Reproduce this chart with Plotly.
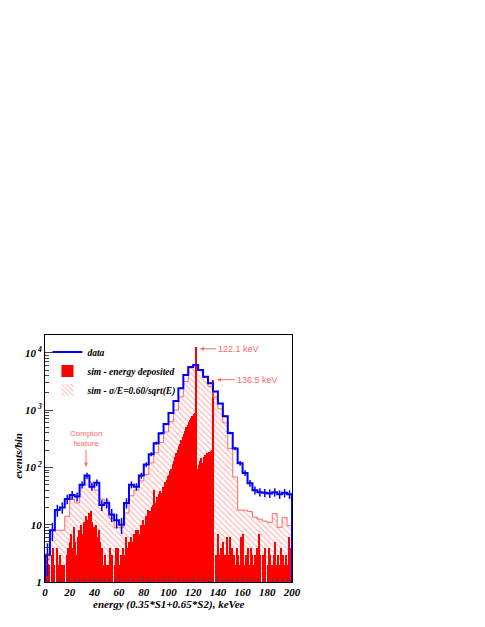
import plotly.graph_objects as go

# bin edges, 4 keV for data and smeared sim, 1 keV for deposited energy
edges_4kev = list(range(0, 201, 4))
edges_1kev = list(range(0, 201, 1))

# measured spectrum (events per 4 keV bin)
data_counts = [3, 8, 18, 20, 28, 33, 31, 50, 72, 46,
               54, 22, 24, 15, 12, 10, 24, 50, 46, 72,
               112, 170, 265, 395, 570, 890, 1440, 2400, 4100, 5650,
               6100, 5000, 3800, 2950, 2100, 1300, 780, 400, 213, 118,
               80, 53, 40, 37, 36, 35, 37, 34, 36, 34]

# simulation smeared with sigma/E = 0.60/sqrt(E) (per 4 keV bin)
sim_smeared = [2.5, 8, 8, 8, 14, 28, 24, 48, 68, 55,
               40, 28, 26, 13, 9, 9, 16, 32, 40, 58,
               75, 120, 180, 270, 415, 625, 1000, 1700, 3150, 5450,
               6100, 5000, 3800, 2600, 1700, 1050, 600, 215, 68, 18,
               18, 17, 13.5, 12.5, 11.5, 11, 15.6, 9, 13.5, 9.6]

# simulation, deposited energy (per 1 keV bin)
sim_deposited = [
    3, 2, 0, 2, 0, 3, 4, 2, 0, 4,
    2, 0, 3, 2, 0, 2, 0, 3, 4, 2,
    5, 7, 4, 9, 5, 3, 6, 8, 5, 10,
    7, 11, 9, 14, 12, 16, 15, 17, 11, 9,
    7, 10, 6, 8, 5, 3, 4, 2, 3, 2,
    0, 2, 4, 2, 3, 0, 2, 4, 3, 4,
    2, 3, 2, 4, 3, 6, 3, 4, 5, 6,
    4, 5, 7, 8, 6, 8, 7, 10, 9, 12,
    10, 14, 12, 18, 14, 17, 20, 22, 40, 24,
    30, 26, 34, 38, 36, 45, 42, 55, 60, 70,
    75, 85, 95, 115, 130, 150, 175, 200, 235, 260,
    300, 340, 390, 440, 500, 560, 620, 680, 740, 800,
    860, 900, 12500, 95, 110, 130, 145, 120, 150, 165,
    155, 175, 185, 170, 190, 200, 3300, 0, 3, 2,
    7, 3, 4, 2, 5, 3, 0, 6, 3, 6,
    2, 4, 0, 3, 2, 4, 3, 2, 6, 3,
    7, 2, 3, 0, 4, 2, 4, 3, 0, 2,
    3, 4, 2, 7, 3, 0, 3, 2, 4, 0,
    2, 4, 3, 2, 0, 3, 5, 2, 3, 0,
    2, 4, 3, 2, 0, 3, 2, 6, 3, 4,
]

centers_4kev = [(a + b) / 2 for a, b in zip(edges_4kev[:-1], edges_4kev[1:])]
centers_1kev = [(a + b) / 2 for a, b in zip(edges_1kev[:-1], edges_1kev[1:])]


def step_path(edges, counts, floor=1):
    """x/y for a histogram outline drawn with line_shape='hv'"""
    x = [edges[0]] + list(edges[:-1]) + [edges[-1], edges[-1]]
    y = [floor] + list(counts) + [counts[-1], floor]
    return x, y


serif = "Liberation Serif"
sans = "Liberation Sans"
label_red = "#ff6b6b"

fig = go.Figure()

# smeared sim, hatched
fig.add_trace(go.Bar(
    x=centers_4kev, y=sim_smeared, width=4,
    name="sim - \u03c3/E=0.60/sqrt(E)",
    marker=dict(color="white", line=dict(width=0),
                pattern=dict(shape="\\", fillmode="overlay", fgcolor="#ff7070",
                             size=4, solidity=0.3)),
    legendrank=3,
))
sx, sy = step_path(edges_4kev, sim_smeared)
fig.add_trace(go.Scatter(x=sx, y=sy, mode="lines", line_shape="hv",
                         line=dict(color="#ff6a6a", width=1),
                         showlegend=False, hoverinfo="skip"))

# deposited energy, solid red
fig.add_trace(go.Bar(
    x=centers_1kev, y=sim_deposited, width=1,
    name="sim - energy deposited",
    marker=dict(color="#ff0000", line=dict(width=0)),
    legendrank=2,
))

# data: step outline + error bars
dx, dy = step_path(edges_4kev, data_counts)
fig.add_trace(go.Scatter(x=dx, y=dy, mode="lines", line_shape="hv",
                         line=dict(color="#0000ff", width=2),
                         name="data", legendrank=1))
fig.add_trace(go.Scatter(
    x=centers_4kev, y=data_counts, mode="markers",
    marker=dict(size=1, color="#0000ff"),
    error_y=dict(type="data", array=[c ** 0.5 for c in data_counts],
                 color="#0000ff", thickness=1.5, width=0),
    showlegend=False, hoverinfo="skip"))

# line labels
fig.add_annotation(x=125.5, y=4.07, ax=16, ay=0, text="122.1 keV",
                   xanchor="left", showarrow=True, arrowhead=2, arrowsize=0.8,
                   arrowwidth=1, arrowcolor=label_red,
                   font=dict(family=sans, size=9, color=label_red))
fig.add_annotation(x=139.3, y=3.53, ax=18, ay=0, text="136.5 keV",
                   xanchor="left", showarrow=True, arrowhead=2, arrowsize=0.8,
                   arrowwidth=1, arrowcolor=label_red,
                   font=dict(family=sans, size=9, color=label_red))
fig.add_annotation(x=33.2, y=2.01, ax=0, ay=-17, text="Compton<br>feature",
                   yanchor="bottom", showarrow=True, arrowhead=2, arrowsize=0.8,
                   arrowwidth=1, arrowcolor=label_red,
                   font=dict(family=sans, size=8, color=label_red))

# axis titles
fig.add_annotation(xref="paper", yref="paper", x=0.5, y=-0.09,
                   xanchor="center", yanchor="middle",
                   text="energy (0.35*S1+0.65*S2), keVee", showarrow=False,
                   font=dict(family=serif, size=11, weight="bold", style="italic"))
fig.add_annotation(xref="paper", yref="paper", x=-0.11, y=0.51, textangle=-90,
                   xanchor="center", yanchor="middle",
                   text="events/bin", showarrow=False,
                   font=dict(family=serif, size=11, weight="bold", style="italic"))

# page body has an 8 px margin, so the margins are shifted by that amount
fig.update_layout(
    width=485, height=627,
    margin=dict(l=37, r=201, t=327, b=53),
    paper_bgcolor="white", plot_bgcolor="white",
    barmode="overlay", bargap=0,
    showlegend=True,
    legend=dict(x=0.01, y=0.99, xanchor="left", yanchor="top",
                bgcolor="rgba(0,0,0,0)", itemwidth=30, tracegroupgap=0,
                font=dict(family=serif, size=9.5, weight="bold", style="italic")),
    font=dict(family=serif, color="black"),
)

tick_font = dict(family=serif, size=11, weight="bold", style="italic", color="black")
fig.update_xaxes(range=[0, 200], tick0=0, dtick=20, ticks="inside", ticklen=7,
                 minor=dict(ticks="inside", ticklen=4, dtick=4),
                 showgrid=False, zeroline=False, showline=True, mirror=True,
                 linecolor="black", linewidth=1, tickfont=tick_font)
fig.update_yaxes(type="log", range=[0, 4.31],
                 tickvals=[1, 10, 100, 1000, 10000],
                 ticktext=["1", "10", "10<sup> 2</sup>", "10<sup> 3</sup>", "10<sup> 4</sup>"],
                 ticks="inside", ticklen=8,
                 minor=dict(ticks="inside", ticklen=4,
                            tickvals=[m * 10 ** d for d in range(5) for m in range(2, 10)]),
                 showgrid=False, zeroline=False, showline=True, mirror=True,
                 linecolor="black", linewidth=1, tickfont=tick_font)

fig.write_html("out.html")
